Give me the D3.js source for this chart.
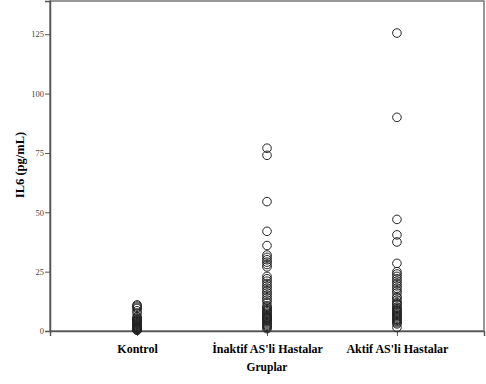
<!DOCTYPE html>
<html>
<head>
<meta charset="utf-8">
<script src="https://cdn.jsdelivr.net/npm/d3@7"></script>
<style>
  body { margin: 0; background: #fff; }
  svg { display: block; }
</style>
</head>
<body>
<div id="graph"></div>
<script>
// Groups on the x axis
let groups = ["Kontrol", "İnaktif AS'li Hastalar", "Aktif AS'li Hastalar"];

// IL6 values, one array per group
let kontrol = [11, 10.5, 10, 9.5, 8.5, 7.5, 6, 5.5, 5, 4.8, 4.5, 4.2, 4, 3.8, 3.5, 3.2,
               3, 2.8, 2.5, 2.3, 2, 1.8, 1.5, 1.3, 1.1, 1, 0.8, 0.6, 0.5, 0.3];
let inaktif = [77, 74, 54.5, 42, 36, 32, 31, 30, 29, 28, 27, 23, 22, 21, 20, 19, 18, 17,
               16, 15, 14, 13, 12, 10.5, 10, 9.5, 9, 8.5, 8, 7.5, 7, 6.5, 6, 5.8, 5.5,
               5.2, 5, 4.5, 4, 3.5, 3, 2.5, 2, 1.5, 1];
let aktif = [125.5, 90, 47, 40.5, 37.5, 28.5, 25, 24, 23, 22, 21, 20, 19, 18, 17, 16,
             14.5, 14, 13, 12, 11.5, 11, 10, 9.5, 9, 8.5, 8, 7.5, 7, 6.5, 6, 5.5, 5,
             4.5, 4, 3.5, 3, 1.5];

let yTicks = [0, 25, 50, 75, 100, 125];

let width = 486;
let height = 384;
let mLeft = 50, mRight = 484, mTop = 1, mBottom = 331;

let xscale = d3.scalePoint()
               .domain(groups)
               .range([mLeft, mRight])
               .padding(0.67);

let yscale = d3.scaleLinear()
               .domain([0, 139])
               .range([mBottom, mTop]);

let chart = d3.select("#graph")
              .append("svg")
                .attr("width", width)
                .attr("height", height);

// frame
chart.append("rect")
     .attr("x", mLeft)
     .attr("y", mTop)
     .attr("width", mRight - mLeft)
     .attr("height", mBottom - mTop)
     .attr("fill", "none")
     .attr("stroke", "#777")
     .attr("stroke-width", 1.5);

// y axis
let y_axis = d3.axisLeft(yscale)
               .tickValues(yTicks)
               .tickSize(5)
               .tickPadding(1);

let yg = chart.append("g")
              .attr("transform", "translate(" + mLeft + ",0)")
              .call(y_axis);
yg.select(".domain").attr("stroke", "#555").attr("stroke-width", 1.5);
yg.selectAll(".tick line").attr("stroke", "#555");
yg.selectAll("text")
  .attr("fill", "#444")
  .style("font-family", "Liberation Serif, serif")
  .style("font-size", "8.5px");

// x axis
let x_axis = d3.axisBottom(xscale)
               .tickSize(5)
               .tickPadding(8);

let xg = chart.append("g")
              .attr("transform", "translate(0," + mBottom + ")")
              .call(x_axis);
xg.select(".domain").attr("stroke", "#555").attr("stroke-width", 1.5);
xg.selectAll(".tick line").attr("stroke", "#555");
xg.selectAll("text")
  .attr("fill", "#000")
  .style("font-family", "Liberation Serif, serif")
  .style("font-size", "12px")
  .style("font-weight", "bold");

// points
let series = [kontrol, inaktif, aktif];
series.forEach(function (vals, i) {
  chart.append("g")
       .selectAll("circle")
       .data(vals)
       .enter()
       .append("circle")
         .attr("cx", xscale(groups[i]))
         .attr("cy", function (d) { return yscale(d); })
         .attr("r", 4.3)
         .attr("fill", "none")
         .attr("stroke", "#222")
         .attr("stroke-width", 1);
});

// axis titles
chart.append("text")
     .attr("x", (mLeft + mRight) / 2)
     .attr("y", 371)
     .attr("text-anchor", "middle")
     .style("font-family", "Liberation Serif, serif")
     .style("font-size", "11.5px")
     .style("font-weight", "bold")
     .text("Gruplar");

chart.append("text")
     .attr("transform", "translate(24,165) rotate(-90)")
     .attr("text-anchor", "middle")
     .style("font-family", "Liberation Serif, serif")
     .style("font-size", "12.5px")
     .style("font-weight", "bold")
     .text("IL6 (pg/mL)");
</script>
</body>
</html>
